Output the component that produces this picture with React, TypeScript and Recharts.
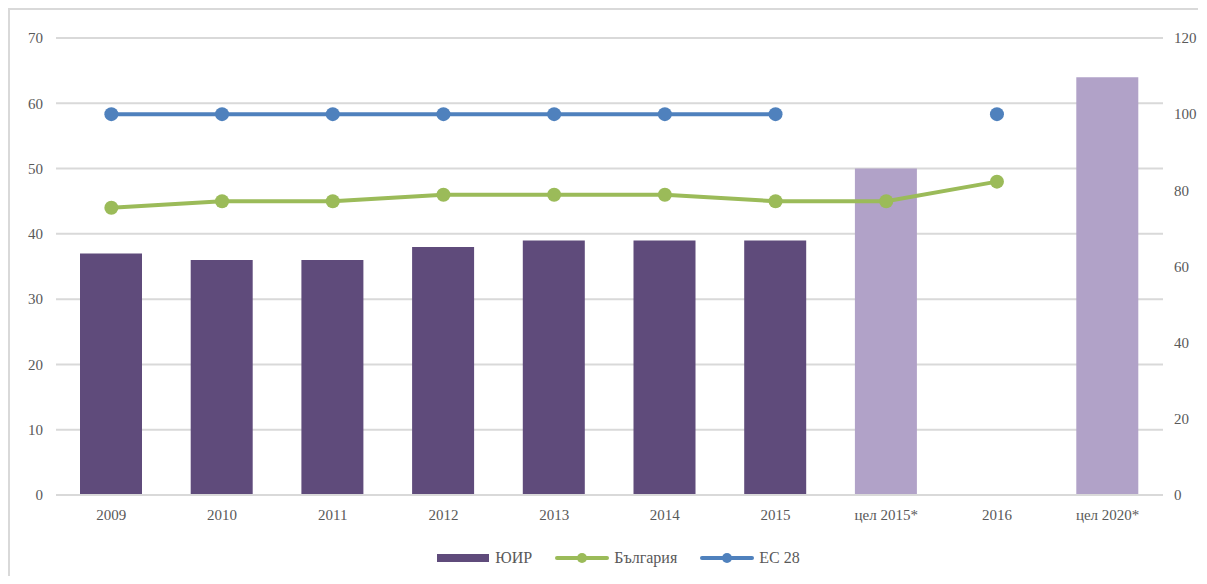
import {
  ComposedChart,
  Bar,
  Line,
  Cell,
  XAxis,
  YAxis,
  CartesianGrid,
  Legend,
} from "recharts";

// ── data ──
const categories = ["2009", "2010", "2011", "2012", "2013", "2014", "2015", "цел 2015*", "2016", "цел 2020*"];
const yuir = [37, 36, 36, 38, 39, 39, 39, 50, null, 64];
const bulgaria = [44, 45, 45, 46, 46, 46, 45, 45, 48, null];
const eu28 = [100, 100, 100, 100, 100, 100, 100, null, 100, null];
const targetCats = ["цел 2015*", "цел 2020*"];
const leftTicks = [0, 10, 20, 30, 40, 50, 60, 70];
const rightTicks = [0, 20, 40, 60, 80, 100, 120];

const data = categories.map((c, i) => ({
  name: c,
  yuir: yuir[i],
  bulgaria: bulgaria[i],
  eu28: eu28[i],
}));

const PURPLE = "#5f4b7b";
const LILAC = "#b1a2c8";
const GREEN = "#9bbb59";
const BLUE = "#4f81bd";
const GRID = "#d9d9d9";
const TEXT = "#595959";
const FONT = "'Liberation Serif', 'Times New Roman', serif";

const tick = { fill: TEXT, fontSize: 15, fontFamily: FONT };

// ── legend ──
const legendItems = [
  { label: "ЮИР", color: PURPLE, kind: "bar" },
  { label: "България", color: GREEN, kind: "line" },
  { label: "ЕС 28", color: BLUE, kind: "line" },
];

const renderLegend = () => (
  <div
    style={{
      display: "flex",
      justifyContent: "center",
      alignItems: "center",
      fontFamily: FONT,
      fontSize: 16,
      lineHeight: "18px",
      color: TEXT,
      paddingLeft: 19,
    }}
  >
    {legendItems.map((it, i) => (
      <div
        key={it.label}
        style={{ display: "flex", alignItems: "center", marginRight: i < legendItems.length - 1 ? 23 : 0 }}
      >
        <svg width={54} height={12} style={{ marginRight: 5 }}>
          {it.kind === "bar" ? (
            <rect x={1} y={2} width={52} height={8} fill={it.color} />
          ) : (
            <>
              <line x1={2} y1={6} x2={52} y2={6} stroke={it.color} strokeWidth={4} strokeLinecap="round" />
              <circle cx={27} cy={6} r={5} fill={it.color} />
            </>
          )}
        </svg>
        <span>{it.label}</span>
      </div>
    ))}
  </div>
);

export default function App() {
  return (
    <div
      style={{
        width: 1190,
        height: 568,
        borderTop: `2px solid ${GRID}`,
        borderLeft: `2px solid ${GRID}`,
        boxSizing: "border-box",
        background: "#fff",
      }}
    >
      <ComposedChart
        width={1188}
        height={566}
        data={data}
        margin={{ top: 28, right: 0, bottom: 51, left: 0 }}
        style={{ overflow: "visible" }}
      >
        <CartesianGrid vertical={false} stroke={GRID} strokeWidth={2} yAxisId="left" />
        <XAxis
          dataKey="name"
          tick={tick}
          tickLine={false}
          axisLine={{ stroke: GRID, strokeWidth: 2 }}
          height={30}
          tickMargin={8}
          interval={0}
        />
        <YAxis
          yAxisId="left"
          orientation="left"
          domain={[0, 70]}
          ticks={leftTicks}
          width={46}
          tick={tick}
          tickLine={false}
          axisLine={false}
          tickMargin={7}
        />
        <YAxis
          yAxisId="right"
          orientation="right"
          domain={[0, 120]}
          ticks={rightTicks}
          width={35}
          tick={tick}
          tickLine={false}
          axisLine={false}
          tickMargin={5}
        />
        <Legend
          layout="horizontal"
          verticalAlign="middle"
          align="center"
          content={renderLegend}
          wrapperStyle={{ top: 539, left: 0, width: 1197 }}
        />
        <Bar yAxisId="left" dataKey="yuir" name="ЮИР" barSize={62} fill={PURPLE} isAnimationActive={false}>
          {data.map((d, i) => (
            <Cell key={`c-${i}`} fill={targetCats.includes(d.name) ? LILAC : PURPLE} />
          ))}
        </Bar>
        <Line
          yAxisId="left"
          dataKey="bulgaria"
          name="България"
          stroke={GREEN}
          strokeWidth={4}
          dot={{ r: 7, fill: GREEN, stroke: "none" }}
          activeDot={false}
          isAnimationActive={false}
        />
        <Line
          yAxisId="right"
          dataKey="eu28"
          name="ЕС 28"
          stroke={BLUE}
          strokeWidth={4}
          dot={{ r: 7, fill: BLUE, stroke: "none" }}
          activeDot={false}
          isAnimationActive={false}
        />
      </ComposedChart>
    </div>
  );
}
